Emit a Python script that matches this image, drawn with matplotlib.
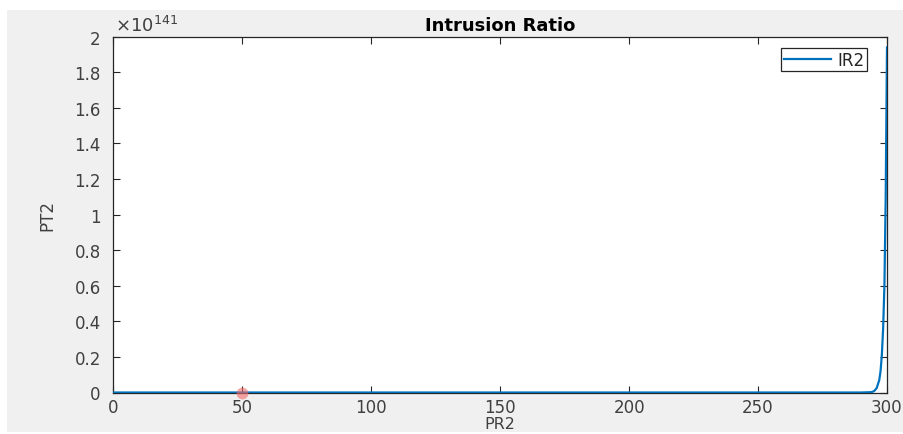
import matplotlib
matplotlib.use("Agg")
import matplotlib.pyplot as plt
from matplotlib.patches import Rectangle
from matplotlib.ticker import FuncFormatter

# ---- data (values of PT2 expressed in units of 10^141) ----
scale_exp = 141
pr2 = [0, 50, 100, 150, 200, 250, 290, 294, 295, 296, 297, 297.5, 298,
       298.5, 299, 299.5, 300]
pt2 = [0, 0, 0, 0, 0, 0, 0, 0.002, 0.008, 0.025, 0.07, 0.12, 0.21,
       0.36, 0.6, 1.1, 1.94]
marker_x = [50]
marker_y = [0]
series_label = "IR2"
title_text = "Intrusion Ratio"
xlabel_text = "PR2"
ylabel_text = "PT2"
xticks = [0, 50, 100, 150, 200, 250, 300]
yticks = [0, 0.2, 0.4, 0.6, 0.8, 1, 1.2, 1.4, 1.6, 1.8, 2]

plt.rcParams['font.family'] = ['DejaVu Sans']

W, H = 904, 435
fig = plt.figure(figsize=(W / 100, H / 100), dpi=100, facecolor='white')
# MATLAB-like grey figure background
fig.patches.append(Rectangle((7 / W, 2 / H), 1 - 7 / W, 1 - 13 / H,
                             transform=fig.transFigure, facecolor='#f0f0f0',
                             edgecolor='none', zorder=-10))

left, right = 113.3 / W, 887 / W
top, bottom = 1 - 37.7 / H, 1 - 393.5 / H
ax = fig.add_axes([left, bottom, right - left, top - bottom])
ax.set_facecolor('white')

factor = 10.0 ** scale_exp
ax.plot(pr2, [v * factor for v in pt2], color='#0072BD', lw=1.6,
        label=series_label, zorder=3)
ax.plot(marker_x, [v * factor for v in marker_y], 'o', color='#f06b6b',
        alpha=0.6, markersize=8.5, markeredgewidth=0, zorder=4, clip_on=False)

ax.set_xlim(0, 300)
ax.set_ylim(0, 2 * factor)
ax.set_xticks(xticks)
ax.set_yticks([v * factor for v in yticks])
ax.yaxis.set_major_formatter(FuncFormatter(lambda v, p: f"{v / factor:g}"))

axis_col = '#262626'
for s in ax.spines.values():
    s.set_color(axis_col)
    s.set_linewidth(0.9)
ax.tick_params(direction='in', length=5, width=0.8, colors=axis_col,
               labelcolor='#404040', labelsize=12, top=True, right=True)
ax.tick_params(axis='y', pad=9)
ax.tick_params(axis='x', pad=4)

ax.set_title(title_text, fontsize=13, fontweight='bold', color='black', pad=5)
ax.set_xlabel(xlabel_text, fontsize=11.5, color='#404040', labelpad=0)
ax.set_ylabel(ylabel_text, fontsize=12, color='#404040', labelpad=13)

ax.text(0.002, 1.006, r"$\times\mathregular{10^{%d}}$" % scale_exp,
        transform=ax.transAxes, fontsize=13, color='#404040',
        ha='left', va='bottom')

leg = ax.legend(loc='upper right', bbox_to_anchor=(0.974, 0.968),
                borderaxespad=0, fancybox=False, framealpha=1,
                edgecolor='#262626', fontsize=12, handlelength=2.8,
                handletextpad=0.4, borderpad=0.15)
leg.get_frame().set_linewidth(0.9)
for t in leg.get_texts():
    t.set_color('#262626')

fig.savefig("out.png", dpi=100, facecolor=fig.get_facecolor())
